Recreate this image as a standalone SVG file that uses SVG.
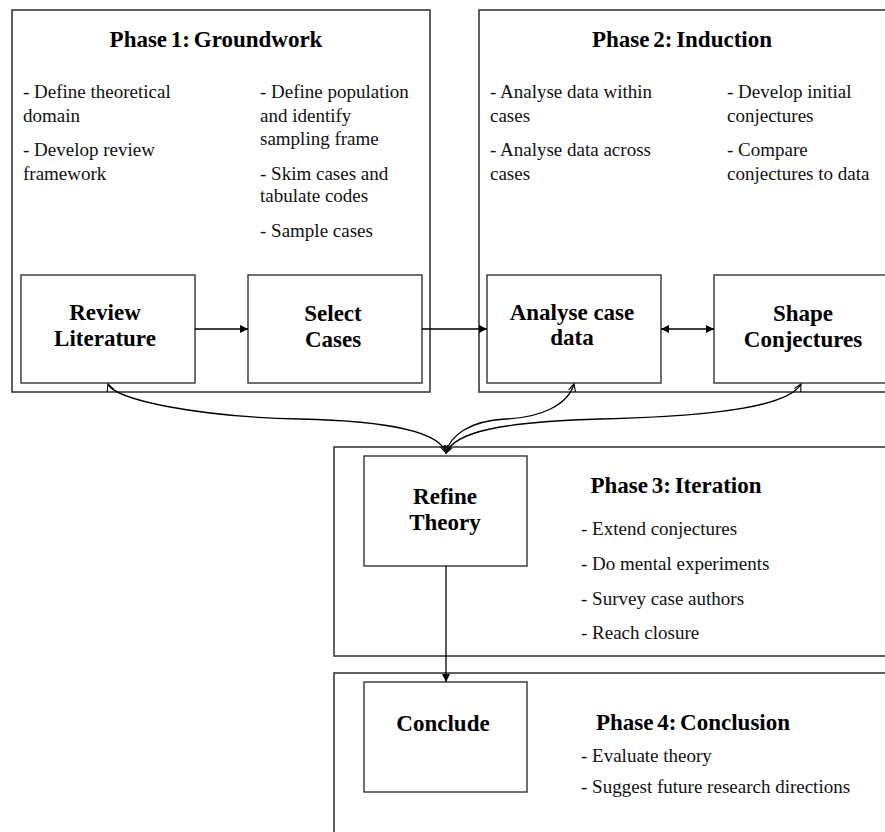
<svg xmlns="http://www.w3.org/2000/svg" width="885" height="832" viewBox="0 0 885 832">
  <style>
    .phase { fill: #ffffff; stroke: #3a3a3a; stroke-width: 1.6; }
    .node { fill: #ffffff; stroke: #333333; stroke-width: 1.4; }
    .title { font-family: "Liberation Serif", "Times New Roman", serif; font-size: 23px; font-weight: bold; fill: #000; text-anchor: middle; word-spacing: -2px; }
    .label { font-family: "Liberation Serif", "Times New Roman", serif; font-size: 23px; font-weight: bold; fill: #000; text-anchor: middle; }
    .item { font-family: "Liberation Serif", "Times New Roman", serif; font-size: 19px; fill: #111; }
    .link { fill: none; stroke: #000; stroke-width: 1.3; }
  </style>
  <defs>
    <marker id="solid" viewBox="0 0 10 10" refX="10" refY="5" markerWidth="9" markerHeight="8" markerUnits="userSpaceOnUse" orient="auto-start-reverse">
      <path d="M0,0 L10,5 L0,10 Z" fill="#000"/>
    </marker>
    <marker id="open" viewBox="0 0 10 10" refX="9" refY="5" markerWidth="8" markerHeight="9" markerUnits="userSpaceOnUse" orient="auto-start-reverse">
      <path d="M0,0.5 L9,5 L0,9.5" fill="none" stroke="#000" stroke-width="1.4"/>
    </marker>
  </defs>

  <rect width="885" height="832" fill="#ffffff"/>

  <!-- Phase 1 -->
  <g id="phase1">
    <rect class="phase" x="12" y="10" width="418" height="382"/>
    <text class="title" x="216" y="47">Phase 1: Groundwork</text>
    <text class="item" x="23" y="98">- Define theoretical</text>
    <text class="item" x="23" y="122">domain</text>
    <text class="item" x="23" y="156">- Develop review</text>
    <text class="item" x="23" y="180">framework</text>
    <text class="item" x="260" y="98">- Define population</text>
    <text class="item" x="260" y="122">and identify</text>
    <text class="item" x="260" y="145">sampling frame</text>
    <text class="item" x="260" y="180">- Skim cases and</text>
    <text class="item" x="260" y="202">tabulate codes</text>
    <text class="item" x="260" y="237">- Sample cases</text>
  </g>

  <!-- Phase 2 -->
  <g id="phase2">
    <rect class="phase" x="479" y="10" width="420" height="382"/>
    <text class="title" x="682" y="47">Phase 2: Induction</text>
    <text class="item" x="490" y="98">- Analyse data within</text>
    <text class="item" x="490" y="122">cases</text>
    <text class="item" x="490" y="156">- Analyse data across</text>
    <text class="item" x="490" y="180">cases</text>
    <text class="item" x="727" y="98">- Develop initial</text>
    <text class="item" x="727" y="122">conjectures</text>
    <text class="item" x="727" y="156">- Compare</text>
    <text class="item" x="727" y="180">conjectures to data</text>
  </g>

  <!-- Phase 3 -->
  <g id="phase3">
    <rect class="phase" x="334" y="447" width="570" height="209"/>
    <text class="title" x="676" y="493">Phase 3: Iteration</text>
    <text class="item" x="581" y="535">- Extend conjectures</text>
    <text class="item" x="581" y="570">- Do mental experiments</text>
    <text class="item" x="581" y="605">- Survey case authors</text>
    <text class="item" x="581" y="639">- Reach closure</text>
  </g>

  <!-- Phase 4 -->
  <g id="phase4">
    <rect class="phase" x="334" y="673" width="570" height="180"/>
    <text class="title" x="693" y="730">Phase 4: Conclusion</text>
    <text class="item" x="581" y="762">- Evaluate theory</text>
    <text class="item" x="581" y="793">- Suggest future research directions</text>
  </g>

  <!-- Activity nodes -->
  <g id="review-literature">
    <rect class="node" x="21" y="275" width="174" height="108"/>
    <text class="label" x="105" y="320">Review</text>
    <text class="label" x="105" y="346">Literature</text>
  </g>
  <g id="select-cases">
    <rect class="node" x="248" y="275" width="174" height="108"/>
    <text class="label" x="333" y="321">Select</text>
    <text class="label" x="333" y="347">Cases</text>
  </g>
  <g id="analyse-case-data">
    <rect class="node" x="487" y="275" width="174" height="108"/>
    <text class="label" x="572" y="320">Analyse case</text>
    <text class="label" x="572" y="345">data</text>
  </g>
  <g id="shape-conjectures">
    <rect class="node" x="714" y="275" width="178" height="108"/>
    <text class="label" x="803" y="321">Shape</text>
    <text class="label" x="803" y="347">Conjectures</text>
  </g>
  <g id="refine-theory">
    <rect class="node" x="364" y="456" width="163" height="110"/>
    <text class="label" x="445" y="504">Refine</text>
    <text class="label" x="445" y="530">Theory</text>
  </g>
  <g id="conclude">
    <rect class="node" x="364" y="682" width="163" height="110"/>
    <text class="label" x="443" y="731">Conclude</text>
  </g>

  <!-- Connectors -->
  <g id="connectors">
    <line class="link" x1="195" y1="329" x2="248" y2="329" marker-end="url(#solid)"/>
    <line class="link" x1="422" y1="329" x2="487" y2="329" marker-end="url(#solid)"/>
    <line class="link" x1="661" y1="329" x2="714" y2="329" marker-start="url(#solid)" marker-end="url(#solid)"/>
    <line class="link" x1="446" y1="566" x2="446" y2="682" marker-end="url(#solid)"/>
    <path class="link" d="M108,384 C114,400 200,417 300,419 C390,421 440,432 446,453" marker-start="url(#open)" marker-end="url(#open)"/>
    <path class="link" d="M574,384 C568,405 540,418 505,419 C470,421 450,435 446,453" marker-start="url(#open)" marker-end="url(#open)"/>
    <path class="link" d="M801,384 C790,404 730,416 600,419 C500,422 455,432 446,453" marker-start="url(#open)" marker-end="url(#open)"/>
  </g>
</svg>
